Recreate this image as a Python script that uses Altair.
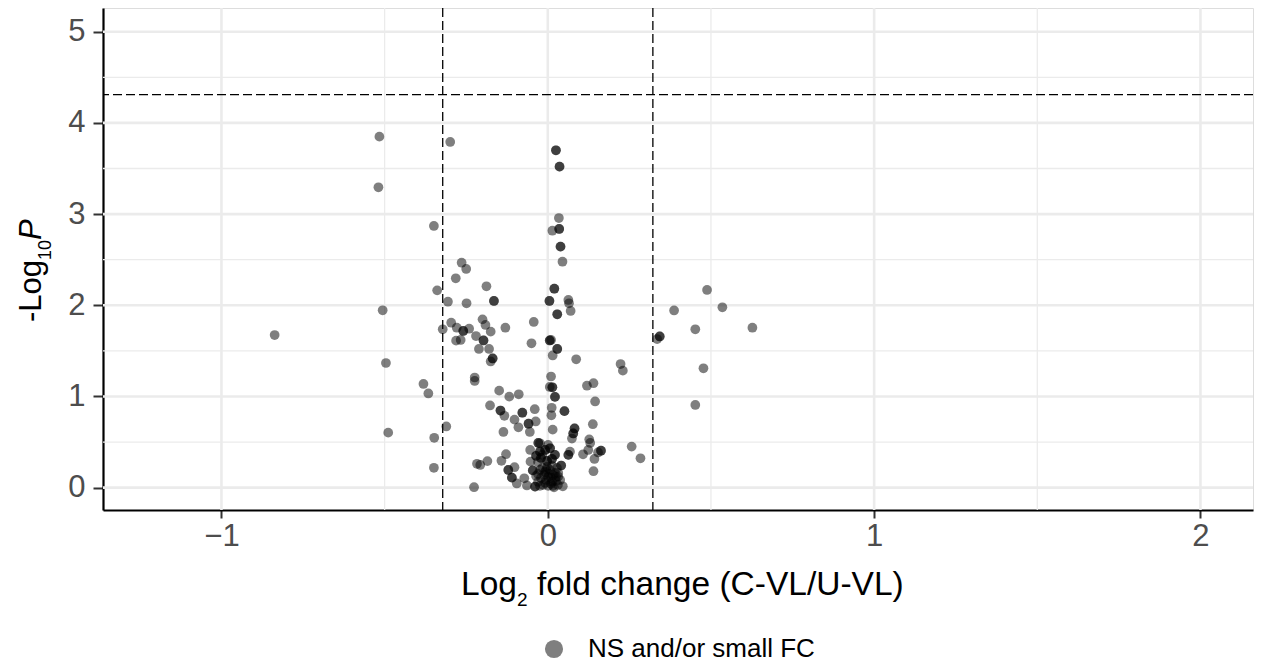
import altair as alt
import pandas as pd

# ---- data (log2 fold change, -log10 p) ----
log2_fc = [
    -0.516, -0.299, -0.519, -0.349, 0.025, 0.025, 0.036, 0.036, 0.034, 0.014,
    0.035, 0.035, 0.039, 0.039, 0.045, -0.264, -0.250, -0.282, -0.188, -0.339,
    0.020, 0.020, -0.306, -0.249, -0.165, -0.165, 0.005, 0.005, 0.063, 0.065,
    0.070, 0.029, 0.029, -0.506, -0.837, -0.296, -0.200, -0.322, -0.279, -0.259,
    -0.259, -0.241, -0.191, -0.175, -0.130, -0.043, -0.281, -0.267, -0.220, -0.197,
    -0.197, -0.211, -0.180, -0.169, -0.169, -0.175, -0.050, 0.006, 0.006, 0.010,
    0.029, 0.029, 0.015, 0.087, 0.223, 0.230, 0.343, 0.343, 0.335, 0.387,
    0.488, 0.535, 0.452, 0.627, 0.477, 0.452, -0.496, -0.224, -0.224, 0.010,
    -0.381, -0.366, -0.149, -0.118, -0.089, 0.006, 0.014, 0.014, 0.120, 0.140,
    0.022, 0.022, 0.145, -0.177, -0.145, -0.145, -0.133, -0.078, -0.078, -0.040,
    0.012, 0.051, 0.051, 0.011, -0.102, -0.059, -0.059, -0.037, -0.090, -0.311,
    -0.136, -0.055, 0.015, 0.082, 0.082, 0.078, 0.078, 0.074, 0.138, -0.489,
    -0.348, -0.029, -0.029, 0.001, 0.127, 0.130, 0.163, 0.163, 0.154, 0.108,
    0.124, 0.143, 0.257, 0.284, -0.054, -0.128, -0.142, -0.217, -0.185, -0.036,
    -0.036, -0.017, -0.349, -0.226, -0.121, -0.121, -0.102, -0.053, -0.110, -0.110,
    -0.095, -0.072, -0.046, -0.046, -0.064, -0.039, -0.039, 0.063, 0.063, 0.068,
    0.041, 0.041, 0.140, 0.046, 0.032, -0.008, -0.008, 0.007, 0.007, 0.022,
    0.022, -0.024, -0.021, -0.021, -0.002, -0.002, 0.013, 0.013, -0.030, -0.207,
    -0.024, -0.024, -0.024, -0.008, 0.007, 0.022, -0.021, -0.005, 0.010, 0.025,
    -0.014, 0.001, 0.016, 0.031, -0.030, -0.011, 0.013, -0.002, 0.028, -0.036,
    0.004, 0.019, -0.017, 0.013, -0.030, 0.001, 0.032, -0.008, 0.010, 0.025,
    -0.024, 0.038, -0.005, 0.016,
]
neg_log10_p = [
    3.849, 3.791, 3.294, 2.870, 3.700, 3.700, 3.520, 3.520, 2.957, 2.818,
    2.837, 2.837, 2.643, 2.643, 2.478, 2.467, 2.398, 2.296, 2.208, 2.164,
    2.182, 2.182, 2.039, 2.022, 2.047, 2.047, 2.047, 2.047, 2.058, 2.022,
    1.938, 1.901, 1.901, 1.945, 1.674, 1.809, 1.846, 1.737, 1.754, 1.718,
    1.718, 1.743, 1.784, 1.711, 1.754, 1.817, 1.612, 1.620, 1.663, 1.614,
    1.614, 1.521, 1.521, 1.417, 1.417, 1.384, 1.583, 1.614, 1.614, 1.620,
    1.521, 1.521, 1.450, 1.408, 1.356, 1.283, 1.658, 1.658, 1.630, 1.943,
    2.168, 1.978, 1.737, 1.754, 1.309, 0.907, 1.367, 1.208, 1.170, 1.219,
    1.137, 1.033, 1.064, 0.998, 1.024, 1.104, 1.101, 1.101, 1.118, 1.145,
    0.995, 0.995, 0.945, 0.901, 0.846, 0.846, 0.788, 0.822, 0.822, 0.860,
    0.876, 0.839, 0.839, 0.794, 0.746, 0.701, 0.701, 0.726, 0.662, 0.671,
    0.611, 0.611, 0.636, 0.649, 0.649, 0.594, 0.594, 0.539, 0.696, 0.603,
    0.547, 0.490, 0.490, 0.468, 0.529, 0.490, 0.405, 0.405, 0.386, 0.366,
    0.413, 0.315, 0.450, 0.322, 0.413, 0.367, 0.295, 0.262, 0.291, 0.348,
    0.348, 0.359, 0.218, 0.005, 0.194, 0.194, 0.224, 0.285, 0.110, 0.110,
    0.046, 0.103, 0.189, 0.189, 0.024, 0.011, 0.011, 0.359, 0.359, 0.395,
    0.243, 0.243, 0.180, 0.015, 0.121, 0.413, 0.413, 0.432, 0.432, 0.359,
    0.359, 0.487, 0.326, 0.326, 0.293, 0.293, 0.315, 0.315, 0.282, 0.249,
    0.395, 0.395, 0.194, 0.172, 0.194, 0.161, 0.106, 0.084, 0.106, 0.073,
    0.030, 0.019, 0.019, 0.030, 0.063, 0.139, 0.063, 0.227, 0.216, 0.128,
    0.150, 0.003, 0.216, 0.238, 0.150, 0.117, 0.161, 0.052, 0.041, 0.117,
    0.019, 0.084, 0.194, 0.139,
]
group_label = "NS and/or small FC"

fc_cutoffs = [-0.322, 0.322]
p_cutoff = [4.31]
x_ticks = [-1, 0, 1, 2]
y_ticks = [0, 1, 2, 3, 4, 5]
x_minor = [-0.5, 0.5, 1.5]
y_minor = [0.5, 1.5, 2.5, 3.5, 4.5]

# ---- layout ----
W, H = 1150, 502
FONT = "Liberation Sans"
xs = alt.Scale(domain=[-1.363, 2.161], nice=False, zero=False)
ys = alt.Scale(domain=[-0.245, 5.26], nice=False, zero=False)

xaxis = alt.Axis(values=x_ticks, title=None, grid=False, domainColor="black",
                 domainWidth=2.2, tickColor="#333333", tickWidth=2, tickSize=8,
                 labelFontSize=31, labelColor="#4d4d4d", labelFont=FONT,
                 labelPadding=3, labelFlush=False)
yaxis = alt.Axis(values=y_ticks, title=None, grid=False, domainColor="black",
                 domainWidth=2.2, tickColor="#333333", tickWidth=2, tickSize=10,
                 labelFontSize=31, labelColor="#4d4d4d", labelFont=FONT,
                 labelPadding=8, labelFlush=False)


def X(field):
    return alt.X(field, scale=xs, axis=xaxis)


def Y(field):
    return alt.Y(field, scale=ys, axis=yaxis)


pts = pd.DataFrame({"fc": log2_fc, "p": neg_log10_p,
                    "grp": [group_label] * len(log2_fc)})

gx_major = alt.Chart(pd.DataFrame({"v": x_ticks})).mark_rule(
    color="#ebebeb", strokeWidth=2.6).encode(x=X("v:Q"))
gx_minor = alt.Chart(pd.DataFrame({"v": x_minor})).mark_rule(
    color="#ebebeb", strokeWidth=1.3).encode(x=X("v:Q"))
gy_major = alt.Chart(pd.DataFrame({"v": y_ticks})).mark_rule(
    color="#ebebeb", strokeWidth=2.6).encode(y=Y("v:Q"))
gy_minor = alt.Chart(pd.DataFrame({"v": y_minor})).mark_rule(
    color="#ebebeb", strokeWidth=1.3).encode(y=Y("v:Q"))

points = alt.Chart(pts).mark_circle(size=95, opacity=0.5).encode(
    x=X("fc:Q"),
    y=Y("p:Q"),
    color=alt.Color("grp:N", scale=alt.Scale(range=["black"]),
                    legend=alt.Legend(title=None, orient="none", legendX=438,
                                      legendY=628, direction="horizontal",
                                      symbolType="circle", symbolSize=330,
                                      symbolOpacity=0.5, symbolStrokeWidth=0,
                                      labelFontSize=26, labelFont=FONT,
                                      labelColor="black", labelOffset=21,
                                      labelLimit=0, padding=0)),
)

vcut = alt.Chart(pd.DataFrame({"v": fc_cutoffs})).mark_rule(
    color="black", strokeWidth=1.3, strokeDash=[9, 4]).encode(x=X("v:Q"))
hcut = alt.Chart(pd.DataFrame({"v": p_cutoff})).mark_rule(
    color="black", strokeWidth=1.3, strokeDash=[9, 4]).encode(y=Y("v:Q"))

one = pd.DataFrame({"a": [0]})
# x-axis title: Log2 fold change (C-VL/U-VL)
X0, XB = 414, 587
xt1 = alt.Chart(one).mark_text(text="Log", font=FONT, fontSize=33.5, align="right",
                               baseline="alphabetic", color="black").encode(
    x=alt.value(X0), y=alt.value(XB))
xt2 = alt.Chart(one).mark_text(text="2", font=FONT, fontSize=19, align="left",
                               baseline="alphabetic", color="black").encode(
    x=alt.value(X0), y=alt.value(XB + 11))
xt3 = alt.Chart(one).mark_text(text="fold change (C-VL/U-VL)", font=FONT,
                               fontSize=33.5, align="left", baseline="alphabetic",
                               color="black").encode(
    x=alt.value(X0 + 10.6 + 9.3), y=alt.value(XB))
# y-axis title: -Log10 P
YB, Y0 = -62, 252
yt1 = alt.Chart(one).mark_text(text="-Log", font=FONT, fontSize=31, align="right",
                               baseline="alphabetic", angle=270,
                               color="black").encode(
    x=alt.value(YB), y=alt.value(Y0))
yt2 = alt.Chart(one).mark_text(text="10", font=FONT, fontSize=18, align="left",
                               baseline="alphabetic", angle=270,
                               color="black").encode(
    x=alt.value(YB + 10), y=alt.value(Y0))
yt3 = alt.Chart(one).mark_text(text="P", font=FONT, fontSize=31, align="left",
                               baseline="alphabetic", angle=270, fontStyle="italic",
                               color="black").encode(
    x=alt.value(YB), y=alt.value(Y0 - 20.0))

chart = alt.layer(
    gx_minor, gy_minor, gx_major, gy_major, vcut, hcut, points,
    xt1, xt2, xt3, yt1, yt2, yt3,
).properties(
    width=W, height=H,
    autosize=alt.AutoSizeParams(type="none"),
    padding={"left": 103, "top": 8, "right": 8, "bottom": 153},
).configure_view(strokeWidth=0).configure(background="white")

chart.save("out.html", embed_options={"renderer": "svg", "actions": False})
